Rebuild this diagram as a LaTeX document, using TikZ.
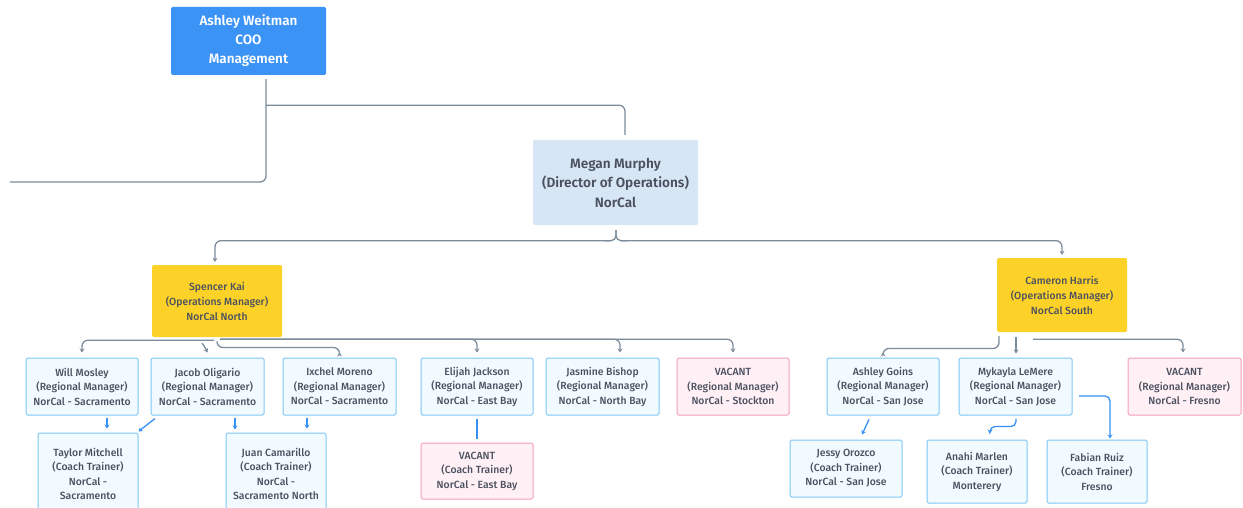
\documentclass[tikz,border=0pt]{standalone}
\usepackage{fontspec}
\setmainfont{Fira Sans}[UprightFont={* Medium}, BoldFont={* SemiBold}]
\usetikzlibrary{arrows.meta,calc}
\definecolor{topblue}{RGB}{59,147,246}
\definecolor{megfill}{RGB}{214,230,245}
\definecolor{gold}{RGB}{253,210,40}
\definecolor{lfill}{RGB}{240,250,255}
\definecolor{lborder}{RGB}{125,198,245}
\definecolor{pfill}{RGB}{255,240,246}
\definecolor{pborder}{RGB}{245,160,180}
\definecolor{conngray}{RGB}{125,140,155}
\definecolor{txtgray}{RGB}{75,80,95}
\definecolor{connblue}{RGB}{55,145,245}
\tikzset{
  box/.style={rectangle, rounded corners=1.5pt, align=center, inner sep=0pt, text=txtgray},
  topbox/.style={box, fill=topblue, text=white, font=\bfseries\fontsize{13.5}{19}\selectfont},
  dirbox/.style={box, fill=megfill, font=\bfseries\fontsize{13.6}{19.5}\selectfont},
  ombox/.style={box, fill=gold, minimum width=130pt, font=\fontsize{10.4}{15}\selectfont},
  rmbox/.style={box, draw=lborder, fill=lfill, line width=1pt, minimum height=57pt, font=\fontsize{10.4}{14.5}\selectfont},
  vacbox/.style={rmbox, draw=pborder, fill=pfill},
  conn/.style={draw=conngray, line width=1.3pt, rounded corners=6pt},
  carr/.style={conn, -{Stealth[length=4pt,width=5pt]}},
  bconn/.style={draw=connblue, line width=1.3pt, rounded corners=5pt},
  barr/.style={bconn, -{Stealth[length=4pt,width=5pt]}}
}
\begin{document}
\begin{tikzpicture}[x=1pt,y=-1pt]
\useasboundingbox (0,0) rectangle (1243,508);
% nodes
\node[topbox, minimum width=155pt, minimum height=68pt] (ashley) at (248.5,41) {Ashley Weitman\\COO\\Management};
\node[dirbox, minimum width=165pt, minimum height=85pt] (megan) at (615.5,182.5) {Megan Murphy\\(Director of Operations)\\NorCal};
\node[ombox, minimum height=72pt] (spencer) at (217,301) {Spencer Kai\\(Operations Manager)\\NorCal North};
\node[ombox, minimum height=74pt] (cameron) at (1062,295) {Cameron Harris\\(Operations Manager)\\NorCal South};
\node[rmbox, minimum width=112pt] (will) at (82,386.5) {Will Mosley\\(Regional Manager)\\NorCal - Sacramento};
\node[rmbox, minimum width=113pt] (jacob) at (207.5,386.5) {Jacob Oligario\\(Regional Manager)\\NorCal - Sacramento};
\node[rmbox, minimum width=113pt] (ixchel) at (339.5,386.5) {Ixchel Moreno\\(Regional Manager)\\NorCal - Sacramento};
\node[rmbox, minimum width=112pt] (elijah) at (477,386.5) {Elijah Jackson\\(Regional Manager)\\NorCal - East Bay};
\node[rmbox, minimum width=113pt] (jasmine) at (602.5,386.5) {Jasmine Bishop\\(Regional Manager)\\NorCal - North Bay};
\node[vacbox, minimum width=112pt] (vstock) at (733,386.5) {VACANT\\(Regional Manager)\\NorCal - Stockton};
\node[rmbox, minimum width=112pt] (goins) at (883,386.5) {Ashley Goins\\(Regional Manager)\\NorCal - San Jose};
\node[rmbox, minimum width=113pt] (mykayla) at (1015.5,386.5) {Mykayla LeMere\\(Regional Manager)\\NorCal - San Jose};
\node[vacbox, minimum width=113pt] (vfresno) at (1184.5,386.5) {VACANT\\(Regional Manager)\\NorCal - Fresno};
\node[rmbox, minimum width=100pt, minimum height=82pt] (taylor) at (88,474) {Taylor Mitchell\\(Coach Trainer)\\NorCal -\\Sacramento};
\node[rmbox, minimum width=100pt, minimum height=82pt] (juan) at (276,474) {Juan Camarillo\\(Coach Trainer)\\NorCal -\\Sacramento North};
\node[vacbox, minimum width=112pt, minimum height=56pt] (vcoach) at (477,471) {VACANT\\(Coach Trainer)\\NorCal - East Bay};
\node[rmbox, minimum width=112pt, minimum height=57pt] (jessy) at (846,468.5) {Jessy Orozco\\(Coach Trainer)\\NorCal - San Jose};
\node[rmbox, minimum width=100pt, minimum height=63pt] (anahi) at (977,471.5) {Anahi Marlen\\(Coach Trainer)\\Monterery};
\node[rmbox, minimum width=100pt, minimum height=63pt] (fabian) at (1097,471.5) {Fabian Ruiz\\(Coach Trainer)\\Fresno};
\coordinate (leftend) at (10,182);
% top connectors
\draw[conn] ($(ashley.south)+(17.5,4)$) |- (leftend);
\draw[conn] ($(ashley.south)+(17.5,30)$) -| ($(megan.north)+(9.5,-5)$);
% megan to ops managers
\draw[conn, rounded corners=5pt] ($(megan.south)+(0.5,5)$) |- ($(megan.south)+(-12,15.5)$);
\draw[conn, rounded corners=5pt] ($(megan.south)+(0.5,5)$) |- ($(megan.south)+(12,15.5)$);
\draw[carr] ($(megan.south)+(-5,15.5)$) -| ($(spencer.north)+(-2,-3)$);
\draw[carr] ($(megan.south)+(5,15.5)$) -| ($(cameron.north)+(0,-3)$);
% spencer children
\draw[carr] ($(spencer.south)+(-3,3)$) -| ($(will.north)+(0,-5)$);
\draw[carr, rounded corners=2pt] ($(spencer.south)+(-15,6)$) -- ($(spencer.south)+(-12,10)$) -- ($(jacob.north)+(0,-5)$);
\draw[carr] ($(spencer.south)+(0,5)$) |- ($(ixchel.north)+(0,-10)$) -- ($(ixchel.north)+(0,-5)$);
\draw[carr] ($(spencer.south)+(3,2)$) -| ($(elijah.north)+(0,-5)$);
\draw[carr] ($(spencer.south)+(3,2)$) -| ($(jasmine.north)+(17.5,-5)$);
\draw[carr] ($(spencer.south)+(3,2)$) -| ($(vstock.north)+(0,-5)$);
% cameron children
\draw[carr] ($(cameron.south)+(-63,4)$) |- ($(goins.north)+(0,-9)$) -- ($(goins.north)+(0,-5)$);
\draw[carr] ($(cameron.south)+(-46,5)$) -- ($(mykayla.north)+(0.5,-4)$);
\draw[carr] ($(cameron.south)+(-29,7)$) -| ($(vfresno.north)+(-1.5,-5)$);
% coach connectors
\draw[barr] ($(will.south)+(25,2)$) -- ($(taylor.north)+(19,-4)$);
\draw[barr] ($(jacob.south)+(-52.5,3)$) -- ($(taylor.north east)+(0,-1)$);
\draw[barr] ($(jacob.south)+(27.5,2)$) -- ($(juan.north)+(-41,-3)$);
\draw[barr] ($(ixchel.south)+(-32.5,2)$) -- ($(juan.north)+(31,-4)$);
\draw[bconn] ($(elijah.south)+(0,3)$) -- ($(vcoach.north)+(0,-4)$);
\draw[barr] ($(goins.south)+(-14,4)$) -- ($(jessy.north)+(16,-5)$);
\draw[barr] ($(mykayla.south)+(0.5,3)$) |- ($(anahi.north)+(13,-13)$) -- ($(anahi.north)+(13,-6)$);
\draw[barr] ($(mykayla.east)+(6.5,9.5)$) -| ($(fabian.north)+(13,-1)$);
\end{tikzpicture}
\end{document}
